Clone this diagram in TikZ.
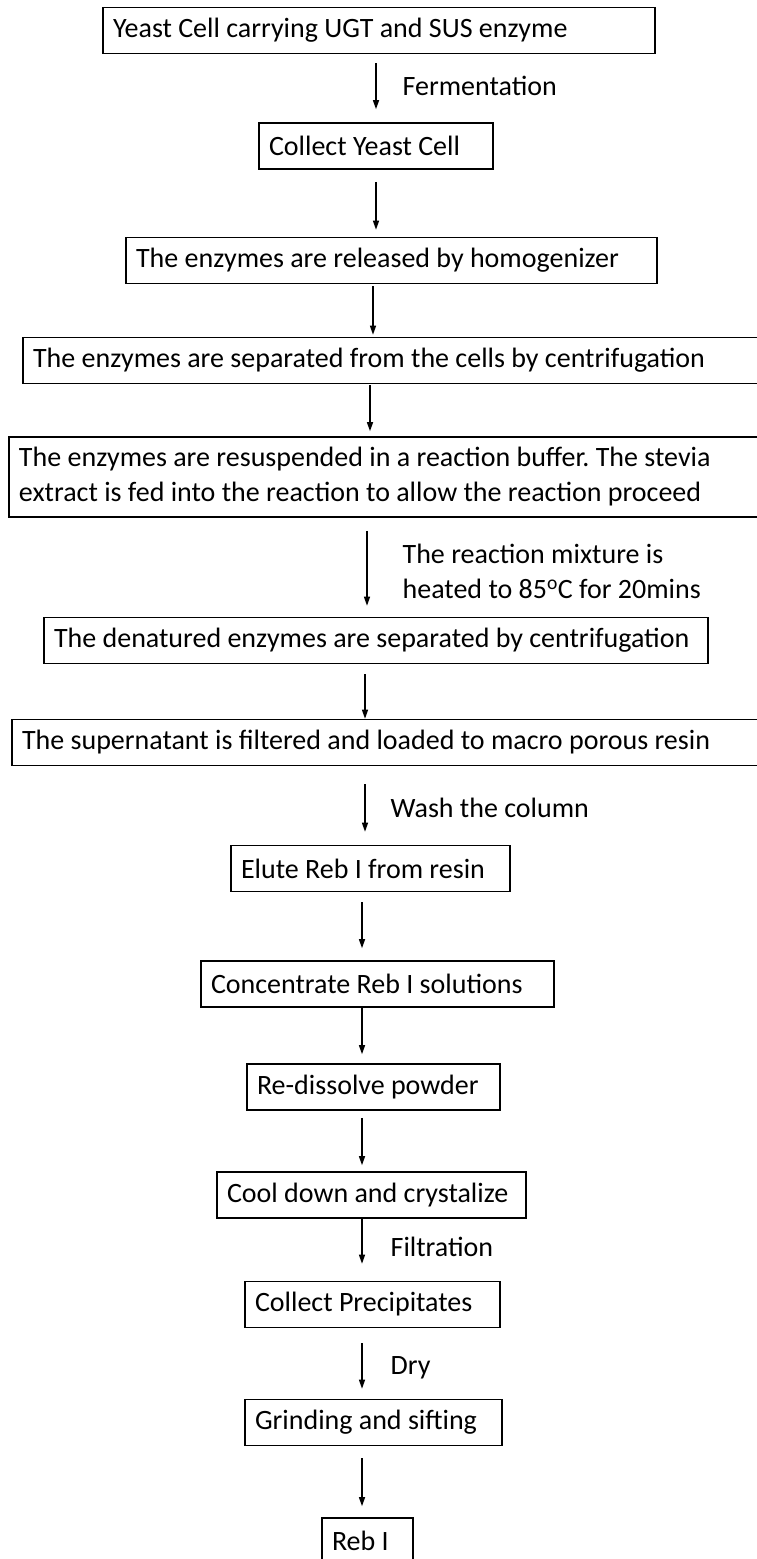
\documentclass[tikz,border=0pt]{standalone}
\usepackage{fontspec}
\setmainfont{Carlito}
\frenchspacing
\usetikzlibrary{arrows.meta, positioning}

\begin{document}
\begin{tikzpicture}[
  x=1pt, y=-1pt,
  stepbox/.style={draw, line width=1.6pt, inner xsep=10pt, inner ysep=0pt,
                  minimum height=46pt, align=flush left, font=\fontsize{28}{35}\selectfont},
  arr/.style={-{Triangle[length=9pt, width=6pt]}, line width=1.3pt},
  lbl/.style={anchor=west, inner sep=0pt, align=flush left, font=\fontsize{28}{35}\selectfont}
]
  \useasboundingbox (0,0) rectangle (756,1559);

  % Process steps, top to bottom
  \node[stepbox, text width=532pt] (yeast) at (379,30.5) {Yeast Cell carrying UGT and SUS enzyme};
  \node[stepbox, text width=214pt] (collect) at (376,146) {Collect Yeast Cell};
  \node[stepbox, text width=511pt] (release) at (391.5,260.5) {The enzymes are released by homogenizer};
  \node[stepbox, text width=715pt] (separate) at (390.5,360.5) {The enzymes are separated from the cells by centrifugation};
  \node[stepbox, text width=729pt, minimum height=80pt] (resuspend) at (383.5,477)
    {The enzymes are resuspended in a reaction buffer. The stevia\\extract is fed into the reaction to allow the reaction proceed};
  \node[stepbox, text width=644pt] (denature) at (376,640.5) {The denatured enzymes are separated by centrifugation};
  \node[stepbox, text width=726pt] (supernatant) at (385,742.5) {The supernatant is filtered and loaded to macro porous resin};
  \node[stepbox, text width=259pt] (elute) at (370.5,868.5) {Elute Reb I from resin};
  \node[stepbox, text width=333pt] (concentrate) at (377.5,984) {Concentrate Reb I solutions};
  \node[stepbox, text width=233pt] (redissolve) at (373.5,1087) {Re-dissolve powder};
  \node[stepbox, text width=289pt] (cool) at (371.5,1195) {Cool down and crystalize};
  \node[stepbox, text width=235pt] (precip) at (372.5,1304.5) {Collect Precipitates};
  \node[stepbox, text width=237pt] (grind) at (373.5,1422.5) {Grinding and sifting};
  \node[stepbox, text width=71pt] (reb) at (367.5,1541) {Reb I};

  % Arrows between the steps
  \draw[arr] ([xshift=-3pt, yshift=-9pt]yeast.south) --
    node[lbl, xshift=26pt] {Fermentation} ([yshift=13pt]collect.north);
  \draw[arr] ([yshift=-12pt]collect.south) -- ([xshift=-15.5pt, yshift=7pt]release.north);
  \draw[arr] ([xshift=-18.5pt, yshift=-2pt]release.south) -- ([xshift=-17.5pt, yshift=2pt]separate.north);
  \draw[arr] ([xshift=-20.5pt, yshift=-1pt]separate.south) -- ([xshift=-13.5pt, yshift=5pt]resuspend.north);
  \draw[arr] ([xshift=-16.5pt, yshift=-13pt]resuspend.south) --
    node[lbl, xshift=35pt, yshift=-3pt] {The reaction mixture is\\heated to 85\textsuperscript{o}C for 20mins}
    ([xshift=-9pt, yshift=11pt]denature.north);
  \draw[arr] ([xshift=-11pt, yshift=-10pt]denature.south) -- ([xshift=-20pt]supernatant.north);
  \draw[arr] ([xshift=-20pt, yshift=-18pt]supernatant.south) --
    node[lbl, xshift=25pt] {Wash the column} ([xshift=-5.5pt, yshift=13pt]elute.north);
  \draw[arr] ([xshift=-8.5pt, yshift=-10pt]elute.south) -- ([xshift=-15.5pt, yshift=12pt]concentrate.north);
  \draw[arr] ([xshift=-15.5pt]concentrate.south) -- ([xshift=-11.5pt, yshift=9pt]redissolve.north);
  \draw[arr] ([xshift=-11.5pt, yshift=-7pt]redissolve.south) -- ([xshift=-9.5pt, yshift=6pt]cool.north);
  \draw[arr] ([xshift=-9.5pt]cool.south) --
    node[lbl, xshift=28pt, yshift=-6pt] {Filtration} ([xshift=-10.5pt, yshift=17pt]precip.north);
  \draw[arr] ([xshift=-10.5pt, yshift=-15pt]precip.south) --
    node[lbl, xshift=28pt, yshift=-2pt] {Dry} ([xshift=-11.5pt, yshift=10pt]grind.north);
  \draw[arr] ([xshift=-11.5pt, yshift=-12pt]grind.south) -- ([xshift=-5.5pt, yshift=11pt]reb.north);
\end{tikzpicture}
\end{document}
